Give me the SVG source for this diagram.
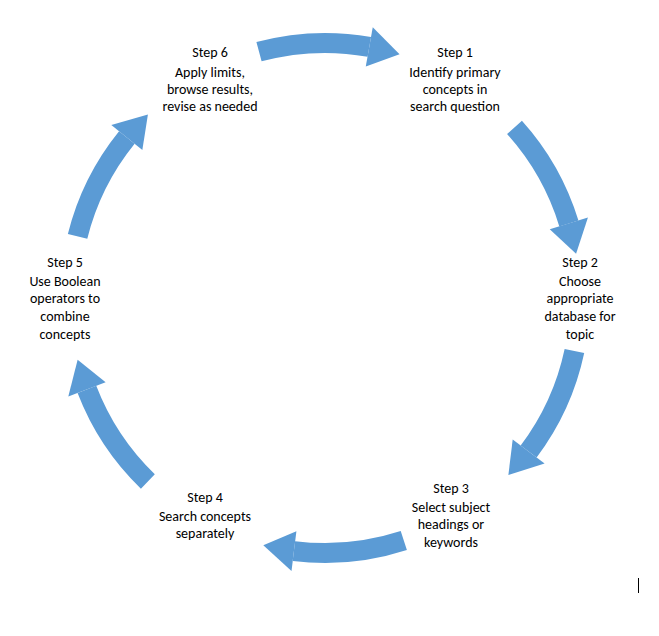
<svg xmlns="http://www.w3.org/2000/svg" width="659" height="636" viewBox="0 0 659 636">
<style>
text{font-family:Carlito,"Liberation Sans",sans-serif;font-size:14px;fill:#000;text-anchor:middle}
.shaft{fill:none;stroke:#5B9BD5;stroke-width:20}
.head{fill:#5B9BD5}
</style>
<defs>
<g id="arr"><path class="shaft" d="M580,298 A255,255 0 0,1 556.1,405.8"/><polygon class="head" points="538,397.3 574.2,414.2 541.2,433.1"/></g>
</defs>
<rect width="659" height="636" fill="#fff"/>
<g id="connectors">
<use href="#arr" transform="rotate(-105 325 298)"/>
<use href="#arr" transform="rotate(-42 325 298)"/>
<use href="#arr" transform="rotate(12 325 298)"/>
<use href="#arr" transform="rotate(72 325 298)"/>
<use href="#arr" transform="rotate(134 325 298)"/>
<use href="#arr" transform="rotate(194 325 298)"/>
</g>
<g id="step1"><text x="455" y="57">Step 1</text><text x="455" y="77">Identify primary</text><text x="455" y="94">concepts in</text><text x="455" y="111">search question</text></g>
<g id="step2"><text x="580" y="267">Step 2</text><text x="580" y="286">Choose</text><text x="580" y="303">appropriate</text><text x="580" y="321">database for</text><text x="580" y="339">topic</text></g>
<g id="step3"><text x="451" y="493">Step 3</text><text x="451" y="512">Select subject</text><text x="451" y="529">headings or</text><text x="451" y="547">keywords</text></g>
<g id="step4"><text x="205" y="502">Step 4</text><text x="205" y="521">Search concepts</text><text x="205" y="538">separately</text></g>
<g id="step5"><text x="65" y="267">Step 5</text><text x="65" y="286">Use Boolean</text><text x="65" y="303">operators to</text><text x="65" y="321">combine</text><text x="65" y="339">concepts</text></g>
<g id="step6"><text x="210" y="57">Step 6</text><text x="210" y="77">Apply limits,</text><text x="210" y="94">browse results,</text><text x="210" y="111">revise as needed</text></g>
<line x1="638.5" y1="578" x2="638.5" y2="593" stroke="#000" stroke-width="1"/>
</svg>
